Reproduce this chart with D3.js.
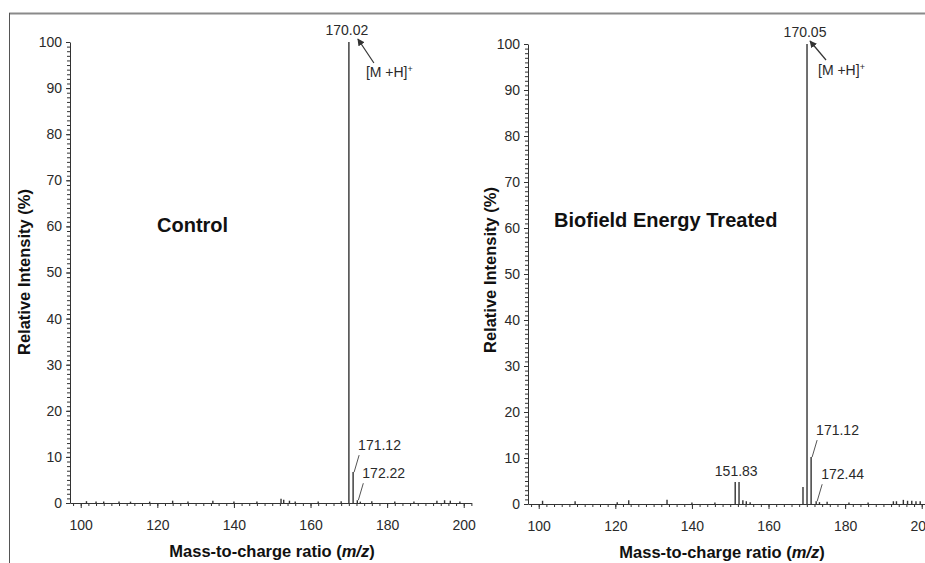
<!DOCTYPE html>
<html>
<head>
<meta charset="utf-8">
<script src="https://cdn.jsdelivr.net/npm/d3@7"></script>
<style>
  body { margin: 0; background: #fff; }
  svg { display: block; font-family: Arial, "Liberation Sans", sans-serif; }
  .tick text { font-size: 14px; fill: #2a2a2a; }
  .axis path, .axis line { stroke: #333; }
</style>
</head>
<body>
<svg width="925" height="563"></svg>
<script>
// tick labels
const xTicks = [100, 120, 140, 160, 180, 200];
const yTicks = [0, 10, 20, 30, 40, 50, 60, 70, 80, 90, 100];

// Control spectrum (m/z, relative intensity %)
const controlMz = [101.5, 104, 106, 110, 113, 118, 124, 128, 134.5, 140, 146, 152.3, 153, 154.5, 156, 162, 168,
  170.02, 171.12, 172.22, 173, 176, 182, 187, 193, 195, 196.5, 199];
const controlInt = [0.4, 0.3, 0.3, 0.3, 0.3, 0.3, 0.5, 0.3, 0.5, 0.3, 0.3, 0.9, 0.7, 0.5, 0.3, 0.3, 0.4,
  100, 6.7, 0.6, 0.3, 0.4, 0.3, 0.3, 0.5, 0.6, 0.5, 0.3];

// Biofield Energy Treated spectrum
const treatedMz = [101, 109.5, 120.5, 123.5, 133.5, 140, 146, 151.3, 152.3, 153.3, 154.2, 155.2, 169.0,
  170.05, 171.12, 172.44, 173.3, 175.3, 181, 186, 192.6, 193.4, 195.2, 196.3, 197.4, 198.5, 199.6];
const treatedInt = [0.7, 0.6, 0.4, 0.8, 0.9, 0.3, 0.3, 4.8, 4.8, 0.8, 0.6, 0.4, 3.7,
  100, 10.2, 0.6, 0.4, 0.5, 0.3, 0.3, 0.6, 0.6, 0.9, 0.7, 0.7, 0.6, 0.6];

// labelled peaks
const controlBase = "170.02";
const controlLabels = ["171.12", "172.22"];
const treatedBase = "170.05";
const treatedLabels = ["171.12", "172.44"];
const treatedCluster = "151.83";

const svg = d3.select("svg");

// frame lines
svg.append("line").attr("x1", 9).attr("x2", 925).attr("y1", 13.5).attr("y2", 13.5)
  .attr("stroke", "#8a8a8a").attr("stroke-width", 2);
svg.append("line").attr("x1", 9.5).attr("x2", 9.5).attr("y1", 13).attr("y2", 563)
  .attr("stroke", "#555").attr("stroke-width", 1);

const panels = [
  { mz: controlMz, ints: controlInt, base: controlBase, labels: controlLabels, cluster: null,
    x0: 70, y0: 503, yTop: 42, title: "Control", titleX: 157, titleY: 232,
    yTitleX: 26, yTitleY: 272, xTitleX: 272, xTitleY: 557,
    arrow: { hx: 9, hy: -3, tx: 25, ty: 21, lx: 17, ly: 35 } },
  { mz: treatedMz, ints: treatedInt, base: treatedBase, labels: treatedLabels, cluster: treatedCluster,
    x0: 528, y0: 504, yTop: 44, title: "Biofield Energy Treated", titleX: 554, titleY: 227,
    yTitleX: 492, yTitleY: 270, xTitleX: 722, xTitleY: 558,
    arrow: { hx: 3, hy: -3, tx: 19, ty: 16, lx: 11, ly: 31 } }
];

svg.append("defs").append("marker")
  .attr("id", "arrow").attr("viewBox", "0 0 10 10").attr("refX", 9).attr("refY", 5)
  .attr("markerWidth", 6).attr("markerHeight", 6).attr("orient", "auto")
  .append("path").attr("d", "M0,0 L10,5 L0,10 z").attr("fill", "#333");

panels.forEach(p => {
  const x = d3.scaleLinear().domain([97.2, 202]).range([p.x0, p.x0 + 104.8 * 3.83]);
  const y = d3.scaleLinear().domain([0, 100]).range([p.y0, p.yTop]);
  const g = svg.append("g");

  // y axis: minor then major
  g.append("g").attr("class", "axis")
    .attr("transform", `translate(${p.x0},0)`)
    .call(d3.axisLeft(y).tickValues(d3.range(0, 101, 1)).tickSize(3).tickFormat(""))
    .call(a => a.select(".domain").remove());
  g.append("g").attr("class", "axis")
    .attr("transform", `translate(${p.x0},0)`)
    .call(d3.axisLeft(y).tickValues(yTicks).tickSize(4).tickSizeOuter(0).tickPadding(4));

  // x axis
  g.append("g").attr("class", "axis")
    .attr("transform", `translate(0,${p.y0})`)
    .call(d3.axisBottom(x).tickValues(d3.range(98, 203, 2)).tickSize(3).tickFormat(""))
    .call(a => a.select(".domain").remove());
  g.append("g").attr("class", "axis")
    .attr("transform", `translate(0,${p.y0})`)
    .call(d3.axisBottom(x).tickValues(xTicks).tickSize(5).tickSizeOuter(0).tickPadding(12));

  // peaks
  g.selectAll(".peak").data(p.mz.map((m, i) => [m, p.ints[i]])).enter()
    .append("line").attr("class", "peak")
    .attr("x1", d => x(d[0])).attr("x2", d => x(d[0]))
    .attr("y1", y(0)).attr("y2", d => y(d[1]))
    .attr("stroke", "#333").attr("stroke-width", 1.4);

  // base peak label and arrow
  const bx = x(+p.base), by = y(100);
  g.append("text").attr("x", bx - 2).attr("y", by - 7).attr("text-anchor", "middle")
    .attr("font-size", 14).attr("fill", "#2a2a2a").text(p.base);
  g.append("line")
    .attr("x1", bx + p.arrow.tx).attr("y1", by + p.arrow.ty)
    .attr("x2", bx + p.arrow.hx).attr("y2", by + p.arrow.hy)
    .attr("stroke", "#333").attr("stroke-width", 1.2).attr("marker-end", "url(#arrow)");
  const mh = g.append("text").attr("x", bx + p.arrow.lx).attr("y", by + p.arrow.ly)
    .attr("font-size", 14).attr("fill", "#2a2a2a");
  mh.append("tspan").text("[M +H]");
  mh.append("tspan").attr("dy", -5).attr("font-size", 9).text("+");

  // leader labels
  p.labels.forEach(l => {
    const m = +l;
    const i = p.mz.indexOf(m);
    const px = x(m), top = y(p.ints[i]);
    g.append("line").attr("x1", px + 6).attr("y1", top - 17).attr("x2", px + 1).attr("y2", top)
      .attr("stroke", "#555").attr("stroke-width", 1);
    g.append("text").attr("x", px + 5).attr("y", top - 22)
      .attr("font-size", 14).attr("fill", "#2a2a2a").text(l);
  });

  if (p.cluster) {
    const cx = x(+p.cluster) - 1;
    g.append("text").attr("x", cx).attr("y", y(4.8) - 6).attr("text-anchor", "middle")
      .attr("font-size", 14).attr("fill", "#2a2a2a").text(p.cluster);
  }

  // titles
  g.append("text").attr("x", p.titleX).attr("y", p.titleY)
    .attr("font-size", 20).attr("font-weight", "bold").attr("fill", "#111").text(p.title);
  g.append("text")
    .attr("transform", `translate(${p.yTitleX},${p.yTitleY}) rotate(-90)`)
    .attr("text-anchor", "middle").attr("dominant-baseline", "middle")
    .attr("font-size", 16.5).attr("font-weight", "bold").attr("fill", "#111")
    .text("Relative Intensity (%)");
  const xt = g.append("text").attr("x", p.xTitleX).attr("y", p.xTitleY)
    .attr("text-anchor", "middle").attr("font-size", 16.5).attr("font-weight", "bold").attr("fill", "#111");
  xt.append("tspan").text("Mass-to-charge ratio (");
  xt.append("tspan").attr("font-style", "italic").text("m/z");
  xt.append("tspan").text(")");
});
</script>
</body>
</html>
